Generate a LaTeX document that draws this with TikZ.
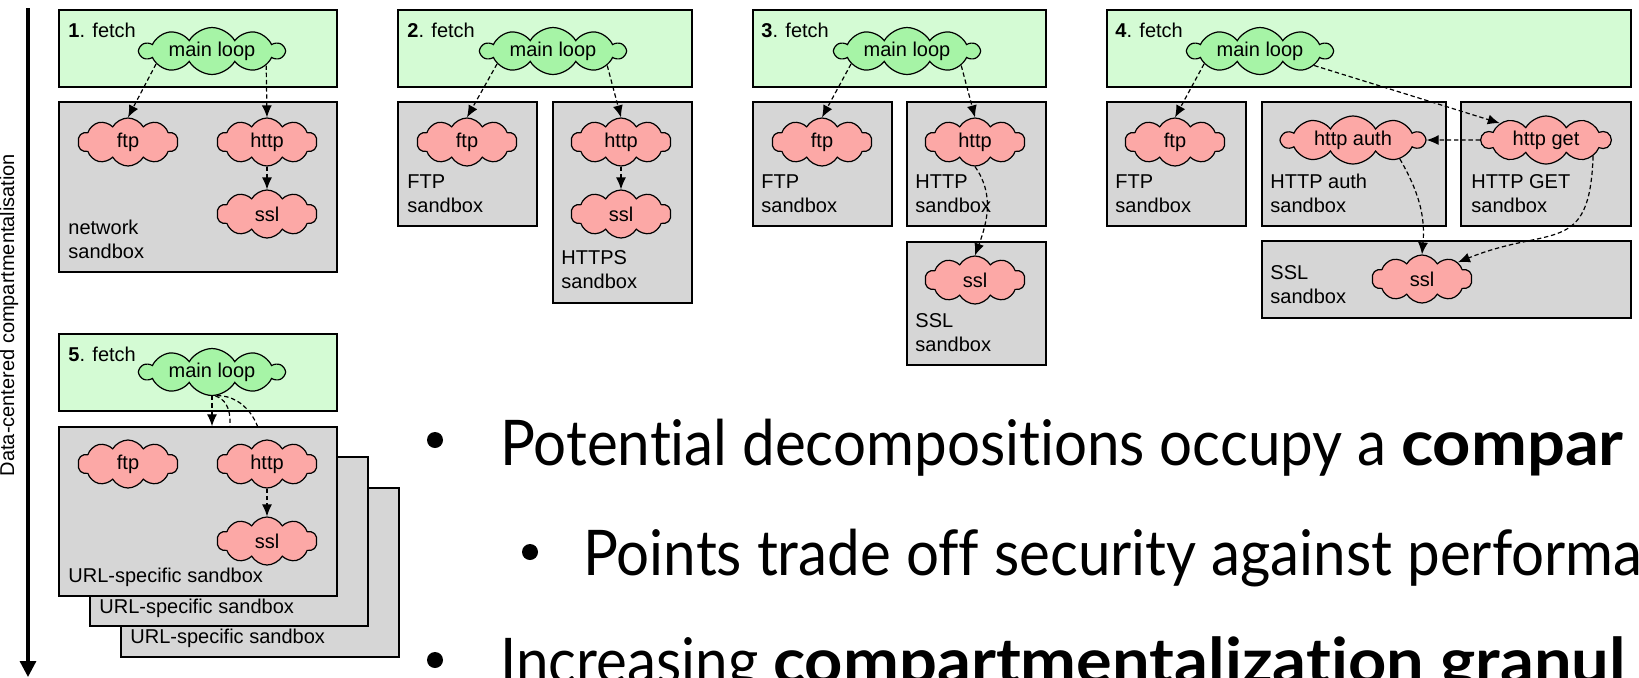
\documentclass[tikz,border=0pt]{standalone}
\usepackage{fontspec}
\setmainfont{Liberation Sans}
\newfontfamily\slidefont[Ligatures=NoCommon,
  UprightFeatures={FakeStretch=0.925},
  BoldFeatures={FakeStretch=1.06}]{Lato}
\usetikzlibrary{arrows.meta, shapes.symbols, fit}
\definecolor{fetchbg}{RGB}{212,251,212}
\definecolor{loopfill}{RGB}{166,244,166}
\definecolor{modfill}{RGB}{252,168,166}
\definecolor{boxgray}{RGB}{214,214,214}

\begin{document}
\begin{tikzpicture}[x=0.5pt, y=-0.5pt,
every edge/.style = {draw=black, line width=0.6pt,
      dash pattern=on 2.2pt off 1.4pt,
      -{Latex[length=6pt,width=5pt]}},
 fetchbox/.style = {draw, line width=0.7pt, fill=fetchbg, inner sep=0pt},
  sandbox/.style = {draw, line width=0.7pt, fill=boxgray, inner sep=0pt},
     puff/.style = {cloud, cloud puffs=10, cloud puff arc=120,
                    cloud ignores aspect, draw, line width=0.6pt,
                    inner sep=0pt},
   mainlp/.style = {puff, fill=loopfill,
                    minimum width=72pt, minimum height=23pt},
 modl/.style args = {#1/#2}{%
                    puff, fill=modfill,
                    minimum width=#1, minimum height=#2},
      lbl/.style = {anchor=base west, inner sep=0pt},
     lbl2/.style = {anchor=north west, inner sep=0pt, align=left},
     bull/.style = {circle, fill=black, inner sep=0pt, minimum size=8pt},
    slide/.style = {anchor=base west, inner sep=0pt,
                    font=\slidefont\fontsize{31.5}{36}\selectfont}
                    ]
\useasboundingbox (0,0) rectangle (1639,677);
\clip (0,0) rectangle (1639,677);
% axis
\coordinate (axtop) at (28,8);
\coordinate (axbot) at (28,677);
\draw[line width=1.6pt, -{Triangle[length=8pt,width=8pt]}] (axtop) -- (axbot);
\node (axlbl) [rotate=90] at (9,315) {Data-centered compartmentalisation};
% 1. one network sandbox
\node (g1)    [fetchbox, fit={(59,10) (337,87)}] {};
\node (net1)  [sandbox,  fit={(59,102) (337,272)}] {};
\node (f1)    [lbl] at (68,37) {\textbf{1}. fetch};
\node (ml1)   [mainlp] at (212,51) {main loop};
\node (ftp1)  [modl=50pt/24pt] at (128,142) {ftp};
\node (http1) [modl=50pt/24pt] at (267,142) {http};
\node (ssl1)  [modl=50pt/24pt] at (267,214) {ssl};
\node (n1)    [lbl2] at (68,220) {network\\sandbox};
\path (ml1.193)     edge (ftp1.north)
      (ml1.-15)     edge (http1.north)
      (http1.south) edge (ssl1.north);
% 2. FTP / HTTPS
\node (g2)    [fetchbox, fit={(398,10) (692,87)}] {};
\node (fb2)   [sandbox,  fit={(398,102) (537,226)}] {};
\node (hb2)   [sandbox,  fit={(553,102) (692,303)}] {};
\node (f2)    [lbl] at (407,37) {\textbf{2}. fetch};
\node (ml2)   [mainlp] at (553,51) {main loop};
\node (ftp2)  [modl=50pt/24pt] at (467,142) {ftp};
\node (http2) [modl=50pt/24pt] at (621,142) {http};
\node (ssl2)  [modl=50pt/24pt] at (621,214) {ssl};
\node (n2a)   [lbl2] at (407,174) {FTP\\sandbox};
\node (n2b)   [lbl2] at (561,250) {HTTPS\\sandbox};
\path (ml2.193)     edge (ftp2.north)
      (ml2.-15)     edge (http2.north)
      (http2.south) edge (ssl2.north);
% 3. FTP / HTTP / SSL
\node (g3)    [fetchbox, fit={(753,10) (1046,87)}] {};
\node (fb3)   [sandbox,  fit={(753,102) (892,226)}] {};
\node (hb3)   [sandbox,  fit={(907,102) (1046,226)}] {};
\node (sb3)   [sandbox,  fit={(907,242) (1046,365)}] {};
\node (f3)    [lbl] at (761,37) {\textbf{3}. fetch};
\node (ml3)   [mainlp] at (907,51) {main loop};
\node (ftp3)  [modl=50pt/24pt] at (822,142) {ftp};
\node (http3) [modl=50pt/24pt] at (975,142) {http};
\node (ssl3)  [modl=50pt/24pt] at (975,280) {ssl};
\node (n3a)   [lbl2] at (761,174) {FTP\\sandbox};
\node (n3b)   [lbl2] at (915,174) {HTTP\\sandbox};
\node (n3c)   [lbl2] at (915,313) {SSL\\sandbox};
\path (ml3.193)     edge (ftp3.north)
      (ml3.-15)     edge (http3.north)
      (http3.south) edge[out=-55, in=70] (ssl3.north);
% 4. split HTTP
\node (g4)    [fetchbox, fit={(1107,10) (1631,87)}] {};
\node (fb4)   [sandbox,  fit={(1107,102) (1246,226)}] {};
\node (ab4)   [sandbox,  fit={(1262,102) (1446,226)}] {};
\node (gb4)   [sandbox,  fit={(1461,102) (1631,226)}] {};
\node (sb4)   [sandbox,  fit={(1262,241) (1631,318)}] {};
\node (f4)    [lbl] at (1115,37) {\textbf{4}. fetch};
\node (ml4)   [mainlp] at (1260,51) {main loop};
\node (ftp4)  [modl=50pt/24pt] at (1175,142) {ftp};
\node (hauth) [modl=71.5pt/24pt] at (1353,140) {http auth};
\node (hget)  [modl=64.5pt/24pt] at (1546,140) {http get};
\node (ssl4)  [modl=50pt/24pt] at (1422,279) {ssl};
\node (n4a)   [lbl2] at (1115,174) {FTP\\sandbox};
\node (n4b)   [lbl2] at (1270,174) {HTTP auth\\sandbox};
\node (n4c)   [lbl2] at (1471,174) {HTTP GET\\sandbox};
\node (n4d)   [lbl2] at (1270,265) {SSL\\sandbox};
\path (ml4.193)    edge (ftp4.north)
      (ml4.-15)    edge (hget.160)
      (hget.west)  edge (hauth.east)
      (hauth.-22)  edge[out=-60, in=85] (ssl4.north)
      (hget.-19)   edge[out=-92, in=22, looseness=1.5] (ssl4.25);
% 5. one sandbox per URL
\node (g5)    [fetchbox, fit={(59,334) (337,411)}] {};
\node (url3)  [sandbox,  fit={(121,488) (399,657)}] {};
\node (u3t)   [lbl] at (130,643) {URL-specific sandbox};
\node (url2)  [sandbox,  fit={(90,457) (368,626)}] {};
\node (u2t)   [lbl] at (99,613) {URL-specific sandbox};
\node (f5)    [lbl] at (68,361) {\textbf{5}. fetch};
\node (ml5)   [mainlp] at (212,372) {main loop};
\coordinate (u2) at (229,450);
\coordinate (u3) at (262,450);
\path (ml5.-82) edge[-, out=-20, in=90] (u2)
      (ml5.-78) edge[-, out=0, in=90] (u3);
\node (url1)  [sandbox,  fit={(59,427) (337,596)}] {};
\node (u1t)   [lbl] at (68,582) {URL-specific sandbox};
\node (ftp5)  [modl=50pt/24pt] at (128,464) {ftp};
\node (http5) [modl=50pt/24pt] at (267,464) {http};
\node (ssl5)  [modl=50pt/24pt] at (267,541) {ssl};
\path (ml5.south)   edge (ml5.south |- url1.north)
      (http5.south) edge (ssl5.north);
% bullets
\node (b1) [bull] at (435,440) {};
\node (t1) [slide] at (500,465) {Potential decompositions occupy a \textbf{compar}};
\node (b2) [bull] at (530,552) {};
\node (t2) [slide] at (583,575) {Points trade off security against performa};
\node (b3) [bull] at (435,660) {};
\node (t3) [slide] at (500,683) {Increasing \textbf{compartmentalization granul}};
\end{tikzpicture}
\end{document}
